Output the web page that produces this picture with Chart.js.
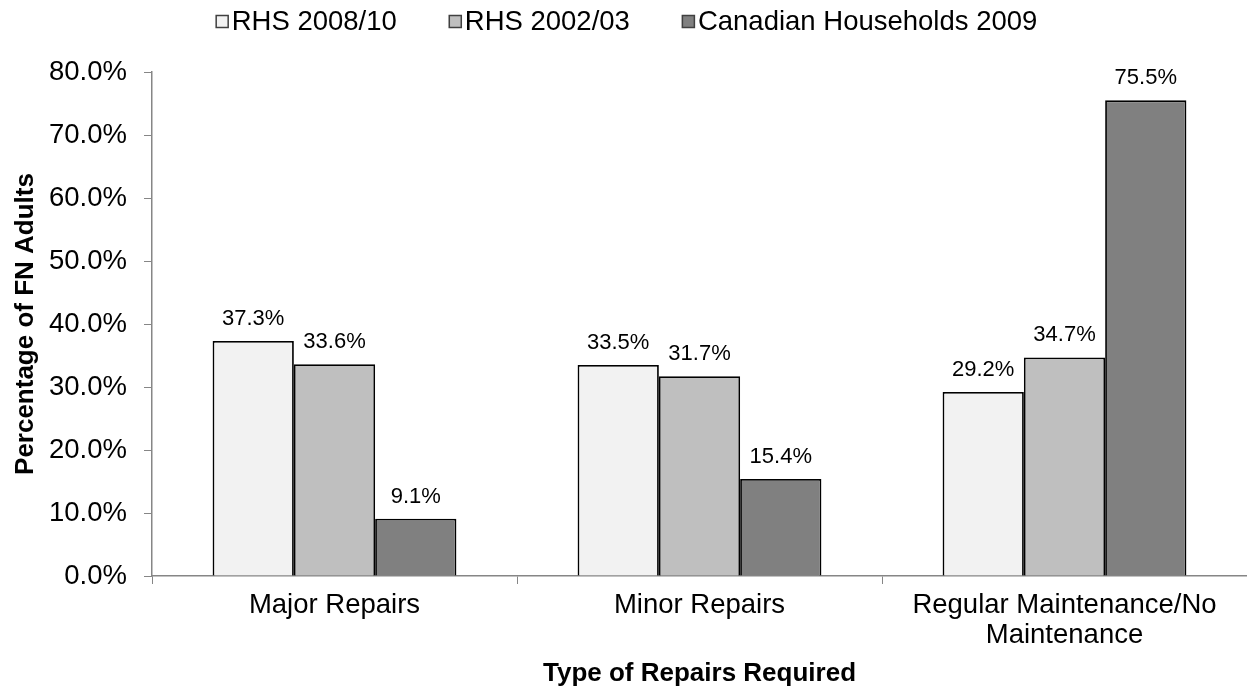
<!DOCTYPE html>
<html>
<head>
<meta charset="utf-8">
<title>Type of Repairs Required</title>
<script src="https://cdn.jsdelivr.net/npm/chart.js@4.4.1/dist/chart.umd.min.js"></script>
<style>
  html, body { margin: 0; padding: 0; background: #fff; }
  canvas { display: block; }
</style>
</head>
<body>
<canvas id="repairChart" width="1247" height="692"></canvas>
<script>
// Data
const categories = ["Major Repairs", "Minor Repairs", ["Regular Maintenance/No", "Maintenance"]];
const seriesNames = ["RHS 2008/10", "RHS 2002/03", "Canadian Households 2009"];
const rhs2008 = [37.3, 33.5, 29.2];
const rhs2002 = [33.6, 31.7, 34.7];
const canada2009 = [9.1, 15.4, 75.5];
const yMax = 80;
const yStep = 10;

const seriesColors = ["#f2f2f2", "#bfbfbf", "#808080"];
const axisGray = "#868686";
const FONT = "'Liberation Sans', Arial, sans-serif";

Chart.defaults.font.family = FONT;
Chart.defaults.color = "#000";

// Legend drawn on top: small square + label, items centred on the canvas
const topLegend = {
    id: "topLegend",
    afterDraw(chart) {
        const c = chart.ctx;
        const box = 13, gapText = 3, gapItem = 52;
        c.save();
        c.font = "27.5px " + FONT;
        const widths = seriesNames.map(n => box + gapText + c.measureText(n).width);
        const total = widths.reduce((a, b) => a + b, 0) + gapItem * (widths.length - 1);
        let x = (chart.width - total) / 2 + 3;
        seriesNames.forEach((name, i) => {
            c.fillStyle = seriesColors[i];
            c.fillRect(x, 15, box, box);
            c.strokeStyle = "#404040";
            c.lineWidth = 1.5;
            c.strokeRect(x + 0.5, 15.5, box - 1, box - 1);
            c.fillStyle = "#000";
            c.textBaseline = "alphabetic";
            c.textAlign = "left";
            c.fillText(name, x + box + gapText, 30);
            x += widths[i] + gapItem;
        });
        c.restore();
    }
};

// Percentage above each bar
const valueLabels = {
    id: "valueLabels",
    afterDatasetsDraw(chart) {
        const c = chart.ctx;
        c.save();
        c.font = "22px " + FONT;
        c.fillStyle = "#000";
        c.textAlign = "center";
        c.textBaseline = "alphabetic";
        chart.data.datasets.forEach((ds, i) => {
            chart.getDatasetMeta(i).data.forEach((bar, j) => {
                c.fillText(ds.data[j].toFixed(1) + "%", bar.x, bar.y - 16);
            });
        });
        c.restore();
    }
};

const datasets = [rhs2008, rhs2002, canada2009].map((values, i) => ({
    label: seriesNames[i],
    data: values,
    backgroundColor: seriesColors[i],
    borderColor: "#000",
    borderWidth: 1.8,
    categoryPercentage: 0.668,
    barPercentage: 1
}));

new Chart(document.getElementById("repairChart"), {
    type: "bar",
    data: { labels: categories, datasets: datasets },
    plugins: [topLegend, valueLabels],
    options: {
        responsive: false,
        animation: false,
        devicePixelRatio: 1,
        layout: { padding: { top: 72, right: 0, bottom: 0, left: 0 } },
        plugins: {
            legend: { display: false },
            tooltip: { enabled: false }
        },
        scales: {
            x: {
                afterFit: s => { s.height = 116; },
                grid: { drawOnChartArea: false, drawTicks: true, tickLength: 8, color: axisGray, offset: true },
                border: { color: axisGray, width: 1.5 },
                ticks: { font: { size: 27.5, lineHeight: 1.1 }, padding: 6, color: "#000", maxRotation: 0 },
                title: {
                    display: true,
                    text: "Type of Repairs Required",
                    font: { size: 26, weight: "bold" },
                    color: "#000",
                    padding: { top: 0, bottom: 3 }
                }
            },
            y: {
                min: 0,
                max: yMax,
                afterFit: s => { s.width = 152; },
                grid: { drawOnChartArea: false, drawTicks: true, tickLength: 8, color: axisGray },
                border: { color: axisGray, width: 1.5 },
                ticks: {
                    stepSize: yStep,
                    font: { size: 27.5 },
                    padding: 17,
                    color: "#000",
                    callback: v => v.toFixed(1) + "%"
                },
                title: {
                    display: true,
                    text: "Percentage of FN Adults",
                    font: { size: 26, weight: "bold" },
                    color: "#000",
                    padding: { top: 10, bottom: 0 }
                }
            }
        }
    }
});
</script>
</body>
</html>
